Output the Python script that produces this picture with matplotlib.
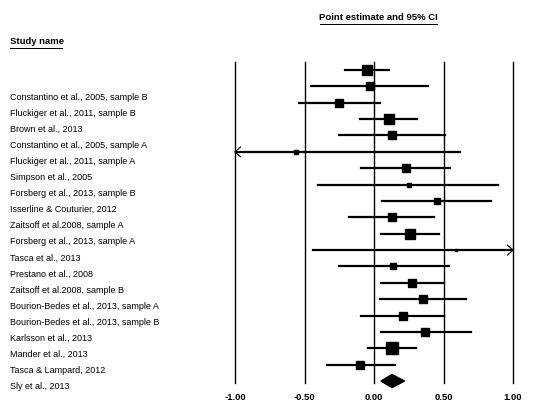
import matplotlib.pyplot as plt
from matplotlib.patches import Polygon

plt.rcParams['font.family'] = ['Liberation Sans', 'DejaVu Sans']

study_names = [
    "Constantino et al., 2005, sample B", "Fluckiger et al., 2011, sample B", "Brown et al., 2013",
    "Constantino et al., 2005, sample A", "Fluckiger et al., 2011, sample A", "Simpson et al., 2005",
    "Forsberg et al., 2013, sample B", "Isserline & Couturier, 2012", "Zaitsoff et al.2008, sample A",
    "Forsberg et al., 2013, sample A", "Tasca et al., 2013", "Prestano et al., 2008",
    "Zaitsoff et al.2008, sample B", "Bourion-Bedes et al., 2013, sample A",
    "Bourion-Bedes et al., 2013, sample B", "Karlsson et al., 2013", "Mander et al., 2013",
    "Tasca & Lampard, 2012", "Sly et al., 2013",
]
# 19 plotted rows + summary diamond (the labels in the source are offset)
point = [-0.05, -0.03, -0.25, 0.11, 0.13, -0.56, 0.23, 0.25, 0.45, 0.13,
         0.26, 0.59, 0.14, 0.27, 0.35, 0.21, 0.37, 0.13, -0.10]
lower = [-0.21, -0.45, -0.54, -0.10, -0.25, -1.00, -0.09, -0.40, 0.06, -0.18,
         0.05, -0.44, -0.25, 0.05, 0.04, -0.09, 0.05, -0.04, -0.34]
upper = [0.11, 0.39, 0.04, 0.31, 0.51, 0.62, 0.55, 0.89, 0.84, 0.43,
         0.47, 1.00, 0.54, 0.50, 0.66, 0.50, 0.70, 0.30, 0.15]
weight = [11, 8, 9, 10, 8, 4, 8, 4, 7, 8, 10, 3, 7, 9, 9, 9, 8, 12, 9]
summary = (0.05, 0.13, 0.22)
ticks = [-1.0, -0.5, 0.0, 0.5, 1.0]

fig = plt.figure(figsize=(5.38, 4.05), dpi=100)
ax = fig.add_axes([235 / 538, 1 - 383 / 405, 278 / 538, 321 / 405])
ax.set_xlim(-1, 1)
ax.set_ylim(20.12, 0.51)
ax.axis('off')
for t in ticks:
    ax.axvline(t, color='black', lw=1.0, clip_on=False)

for i, (p, lo, hi, w) in enumerate(zip(point, lower, upper, weight)):
    y = i + 1
    ax.plot([lo, hi], [y, y], color='black', lw=1.6)
    ax.plot(p, y, 's', color='black', markersize=w / 1.39)
    if lo <= -1:
        ax.plot([-0.96, -1, -0.96], [y - 0.3, y, y + 0.3], color='black', lw=0.8, clip_on=False)
    if hi >= 1:
        ax.plot([0.96, 1, 0.96], [y - 0.3, y, y + 0.3], color='black', lw=0.8, clip_on=False)

yd = len(point) + 1
lo, mid, hi = summary
ax.add_patch(Polygon([[lo, yd], [mid, yd - 0.4], [hi, yd], [mid, yd + 0.4]], color='black',
                     clip_on=False))

for t in ticks:
    fig.text((235 + (t + 1) * 139) / 538, 1 - 398 / 405, f"{t:.2f}", ha='center', va='center',
             fontsize=6.8, fontweight='bold')

for i, name in enumerate(study_names):
    fig.text(10 / 538, 1 - (97 + i * 16.1) / 405, name, ha='left', va='center', fontsize=6.5)

fig.text(378 / 538, 1 - 17 / 405, "Point estimate and 95% CI", ha='center', va='center',
         fontsize=6.8, fontweight='bold')
fig.add_artist(plt.Line2D([320 / 538, 437 / 538], [1 - 24 / 405] * 2, color='black', lw=0.7))
fig.text(10 / 538, 1 - 41 / 405, "Study name", ha='left', va='center', fontsize=6.8, fontweight='bold')
fig.add_artist(plt.Line2D([10 / 538, 62 / 538], [1 - 48 / 405] * 2, color='black', lw=0.7))

fig.savefig("out.png", dpi=100, facecolor='white')
